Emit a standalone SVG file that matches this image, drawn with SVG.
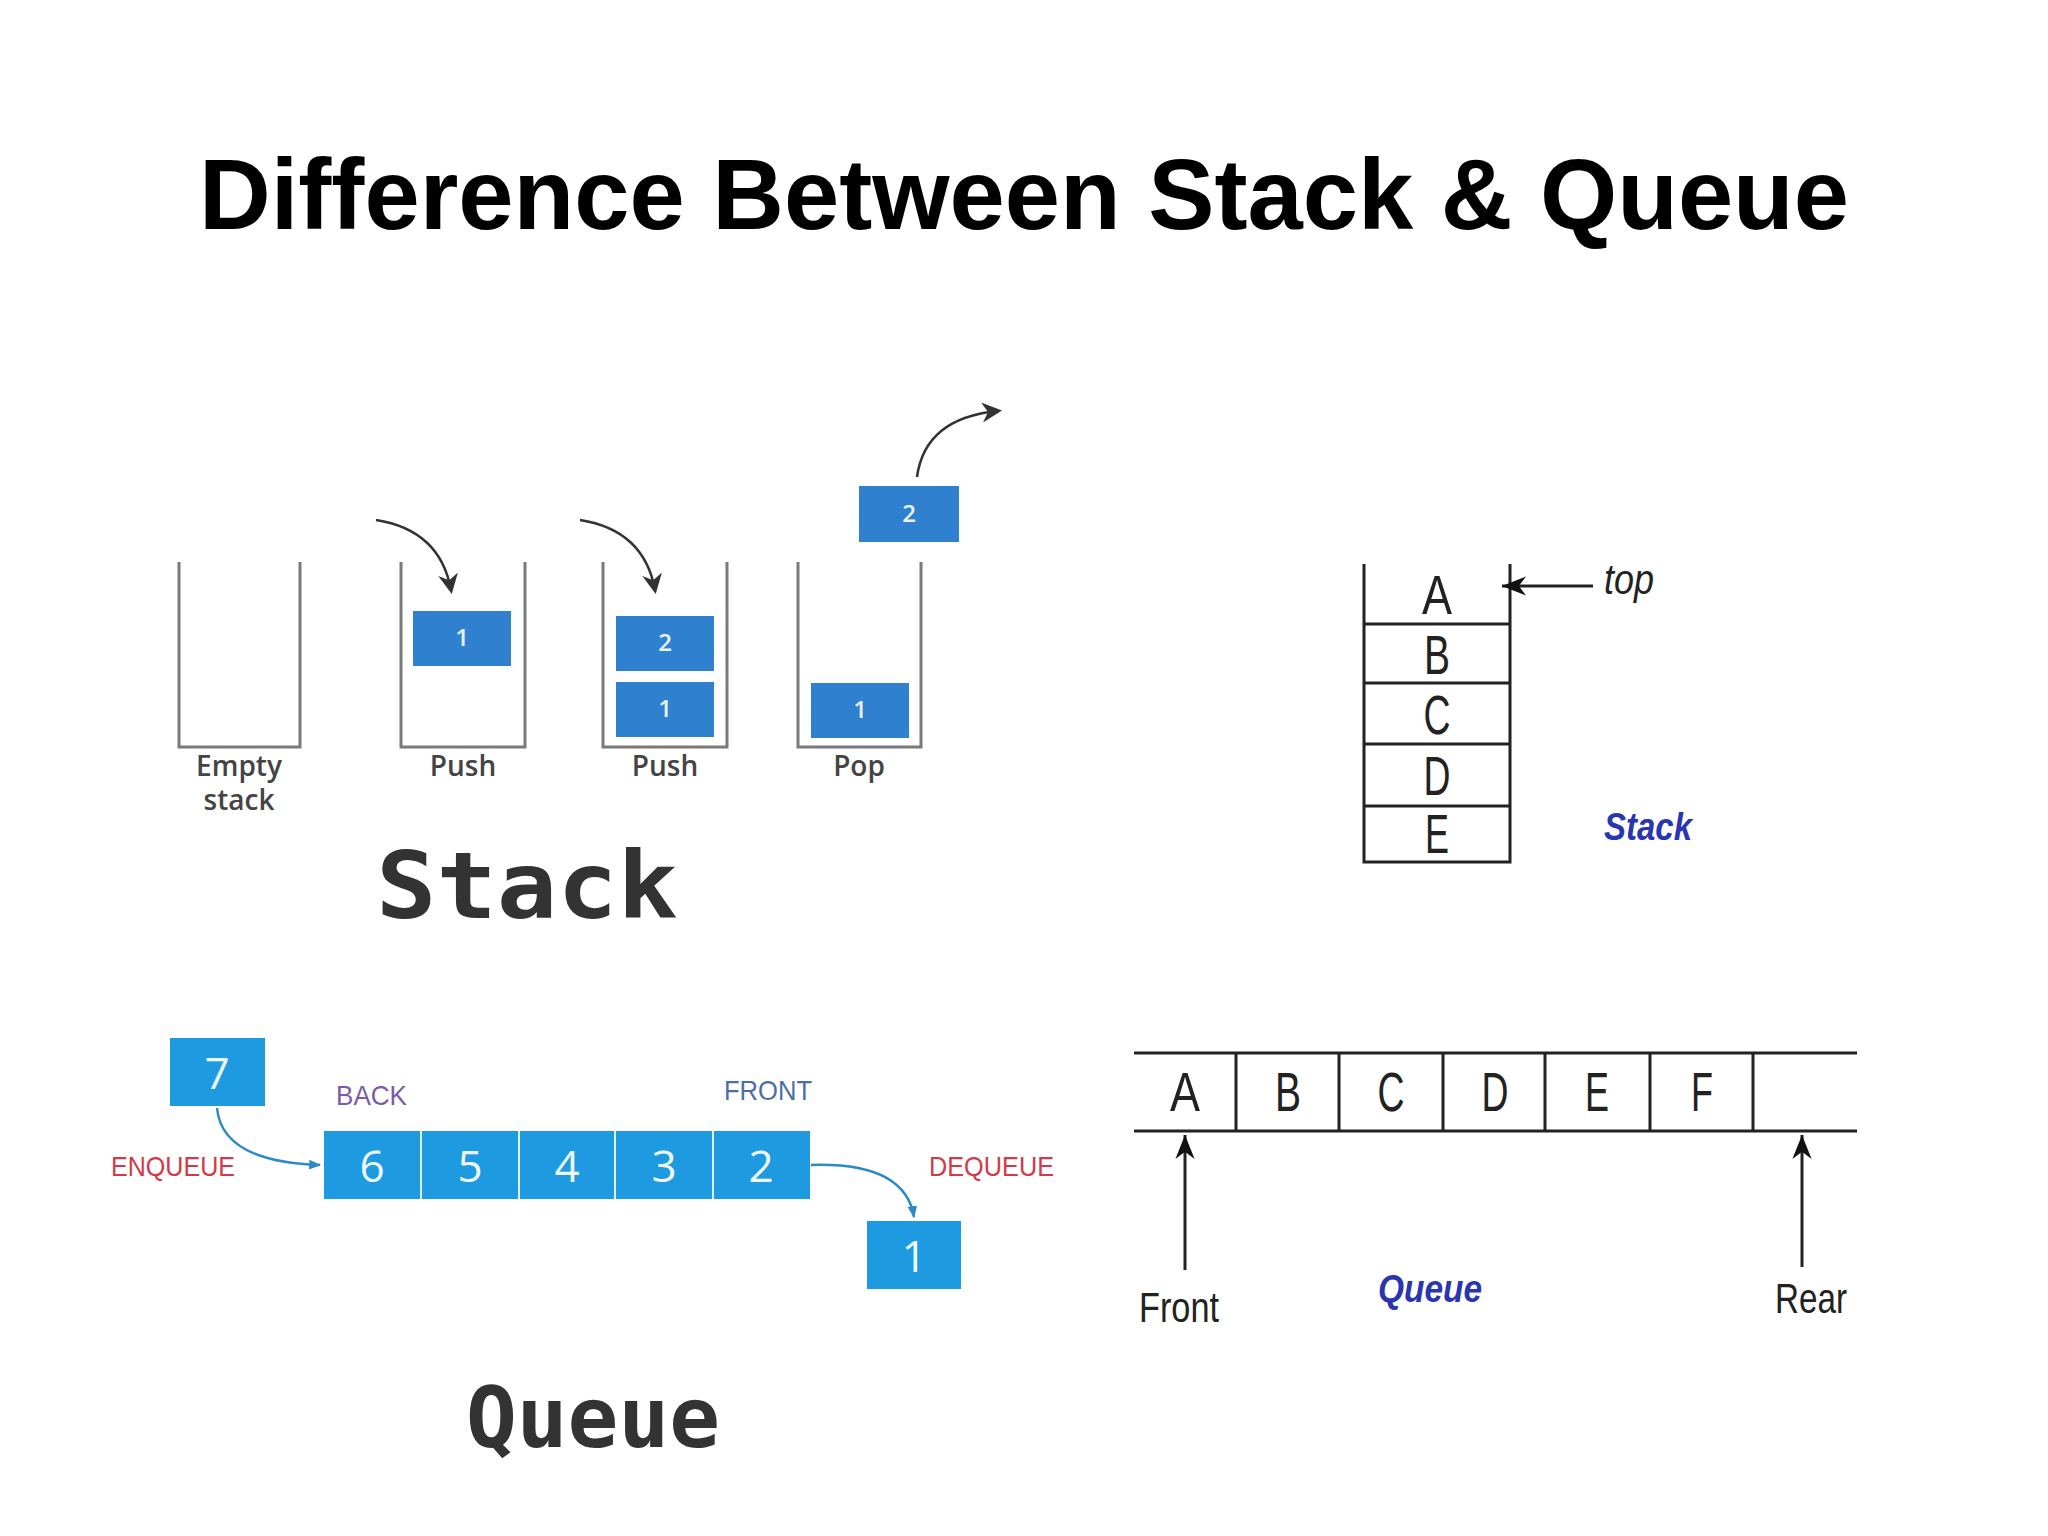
<svg xmlns="http://www.w3.org/2000/svg" width="2048" height="1536" viewBox="0 0 2048 1536">
<style>
.title{font-family:"Liberation Sans",Arial,sans-serif;font-weight:bold;font-size:100px;fill:#000}
.cont{fill:none;stroke:#7a7a7a;stroke-width:3}
.sbox{fill:#2f80cf}
.snum{font-family:"Open Sans","Noto Sans",sans-serif;font-weight:600;font-size:24px;fill:#e8f0fa;text-anchor:middle}
.slab{font-family:"Open Sans","Noto Sans",sans-serif;font-weight:600;font-size:28px;fill:#444;text-anchor:middle}
.big{font-family:"DejaVu Sans Mono","Liberation Mono",monospace;font-weight:bold;fill:#333}
.curve{fill:none;stroke:#333;stroke-width:2.5}
.tbl{fill:none;stroke:#222;stroke-width:3}
.let{font-family:"Liberation Sans",Arial,sans-serif;font-size:56px;fill:#222;text-anchor:middle}
.blue{font-family:"Liberation Sans","Open Sans",sans-serif;font-weight:bold;font-style:italic;font-size:38px;fill:#2a35b0}
.qbox{fill:#1e9ae0}
.qnum{font-family:"Open Sans","Noto Sans",sans-serif;font-size:44px;fill:#eef7fd;text-anchor:middle}
.qlab{font-family:"Liberation Sans",Arial,sans-serif;font-size:28px}
.qarr{fill:none;stroke:#2a8ac8;stroke-width:2.5}
.lab2{font-family:"Liberation Sans",Arial,sans-serif;font-size:42px;fill:#222}
</style>
<defs>
<marker id="ah" viewBox="0 0 10 10" refX="8" refY="5" markerWidth="20" markerHeight="20" markerUnits="userSpaceOnUse" orient="auto">
<path d="M0,0 L10,5 L0,10 L3,5 Z" fill="#333"/>
</marker>
<marker id="ahq" viewBox="0 0 10 10" refX="9" refY="5" markerWidth="12" markerHeight="12" markerUnits="userSpaceOnUse" orient="auto">
<path d="M0,1 L10,5 L0,9 Z" fill="#2a8ac8"/>
</marker>
<marker id="ahb" viewBox="0 0 10 10" refX="10" refY="5" markerWidth="24" markerHeight="24" markerUnits="userSpaceOnUse" orient="auto">
<path d="M0,1 L10,5 L0,9 L3,5 Z" fill="#111"/>
</marker>
</defs>

<text class="title" x="1024" y="229" text-anchor="middle" textLength="1650" lengthAdjust="spacingAndGlyphs">Difference Between Stack &amp; Queue</text>

<g id="stack-empty">
<path class="cont" d="M179,562 V747 H300 V562"/>
<text class="slab" x="239" y="776">Empty</text>
<text class="slab" x="239" y="810">stack</text>
</g>
<g id="stack-push1">
<path class="cont" d="M401,562 V747 H525 V562"/>
<rect class="sbox" x="413" y="611" width="98" height="55"/>
<text class="snum" x="462" y="646">1</text>
<text class="slab" x="463" y="776">Push</text>
</g>
<g id="stack-push2">
<path class="cont" d="M603,562 V747 H727 V562"/>
<rect class="sbox" x="616" y="616" width="98" height="55"/>
<text class="snum" x="665" y="651">2</text>
<rect class="sbox" x="616" y="682" width="98" height="55"/>
<text class="snum" x="665" y="717">1</text>
<text class="slab" x="665" y="776">Push</text>
</g>
<g id="stack-pop">
<path class="cont" d="M798,562 V747 H921 V562"/>
<rect class="sbox" x="811" y="683" width="98" height="55"/>
<text class="snum" x="860" y="718">1</text>
<rect class="sbox" x="859" y="486" width="100" height="56"/>
<text class="snum" x="909" y="522">2</text>
<text class="slab" x="859" y="776">Pop</text>
</g>
<text id="stack-title" class="big" x="376" y="918" font-size="92" textLength="302" lengthAdjust="spacingAndGlyphs">Stack</text>

<g id="stack-table">
<path class="tbl" d="M1364,564 V862 H1510 V564 M1364,624 H1510 M1364,683 H1510 M1364,744 H1510 M1364,806 H1510"/>
<text class="let" x="1437" y="614" textLength="30" lengthAdjust="spacingAndGlyphs">A</text>
<text class="let" x="1437" y="674" textLength="26" lengthAdjust="spacingAndGlyphs">B</text>
<text class="let" x="1437" y="734" textLength="27" lengthAdjust="spacingAndGlyphs">C</text>
<text class="let" x="1437" y="795" textLength="27" lengthAdjust="spacingAndGlyphs">D</text>
<text class="let" x="1437" y="853" textLength="24" lengthAdjust="spacingAndGlyphs">E</text>
<text class="lab2" x="1604" y="594" font-style="italic" textLength="50" lengthAdjust="spacingAndGlyphs">top</text>
<text class="blue" x="1604" y="840" textLength="88" lengthAdjust="spacingAndGlyphs">Stack</text>
</g>

<g id="queue-left">
<rect class="qbox" x="170" y="1038" width="95" height="68"/>
<text class="qnum" x="217" y="1089">7</text>
<rect class="qbox" x="324" y="1131" width="486" height="68"/>
<path d="M421,1131 V1199 M519,1131 V1199 M615,1131 V1199 M713,1131 V1199" stroke="#e0f0fb" stroke-width="2"/>
<text class="qnum" x="372" y="1182">6</text>
<text class="qnum" x="470" y="1182">5</text>
<text class="qnum" x="567" y="1182">4</text>
<text class="qnum" x="664" y="1182">3</text>
<text class="qnum" x="761" y="1182">2</text>
<rect class="qbox" x="867" y="1221" width="94" height="68"/>
<text class="qnum" x="914" y="1272">1</text>
<text class="qlab" x="336" y="1105" fill="#7a5ca8" textLength="71" lengthAdjust="spacingAndGlyphs">BACK</text>
<text class="qlab" x="724" y="1100" fill="#4a6fa8" textLength="88" lengthAdjust="spacingAndGlyphs">FRONT</text>
<text class="qlab" x="111" y="1176" fill="#d23a4a" textLength="124" lengthAdjust="spacingAndGlyphs">ENQUEUE</text>
<text class="qlab" x="929" y="1176" fill="#d23a4a" textLength="125" lengthAdjust="spacingAndGlyphs">DEQUEUE</text>
</g>
<text id="queue-title" class="big" x="466" y="1447" font-size="84" textLength="254" lengthAdjust="spacingAndGlyphs">Queue</text>

<g id="queue-right">
<path class="tbl" d="M1134,1053 H1857 M1134,1131 H1857 M1236,1053 V1131 M1339,1053 V1131 M1443,1053 V1131 M1545,1053 V1131 M1650,1053 V1131 M1753,1053 V1131"/>
<text class="let" x="1185" y="1111" textLength="30" lengthAdjust="spacingAndGlyphs">A</text>
<text class="let" x="1288" y="1111" textLength="26" lengthAdjust="spacingAndGlyphs">B</text>
<text class="let" x="1391" y="1111" textLength="27" lengthAdjust="spacingAndGlyphs">C</text>
<text class="let" x="1495" y="1111" textLength="27" lengthAdjust="spacingAndGlyphs">D</text>
<text class="let" x="1597" y="1111" textLength="24" lengthAdjust="spacingAndGlyphs">E</text>
<text class="let" x="1702" y="1111" textLength="22" lengthAdjust="spacingAndGlyphs">F</text>
<text class="lab2" x="1139" y="1322" textLength="80" lengthAdjust="spacingAndGlyphs">Front</text>
<text class="blue" x="1378" y="1302" textLength="104" lengthAdjust="spacingAndGlyphs">Queue</text>
<text class="lab2" x="1775" y="1313" textLength="72" lengthAdjust="spacingAndGlyphs">Rear</text>
</g>

<g id="connectors">
<path class="curve" d="M376,520 Q440,530 451,590" marker-end="url(#ah)"/>
<path class="curve" d="M580,520 Q644,530 655,590" marker-end="url(#ah)"/>
<path class="curve" d="M917,477 Q925,418 998,411" marker-end="url(#ah)"/>
<path class="tbl" d="M1593,586 H1502" marker-end="url(#ahb)"/>
<path class="tbl" d="M1185,1270 V1135" marker-end="url(#ahb)"/>
<path class="tbl" d="M1802,1267 V1135" marker-end="url(#ahb)"/>
<path class="qarr" d="M217,1108 Q222,1162 320,1165" marker-end="url(#ahq)"/>
<path class="qarr" d="M811,1165 Q905,1162 914,1217" marker-end="url(#ahq)"/>
</g>
</svg>
